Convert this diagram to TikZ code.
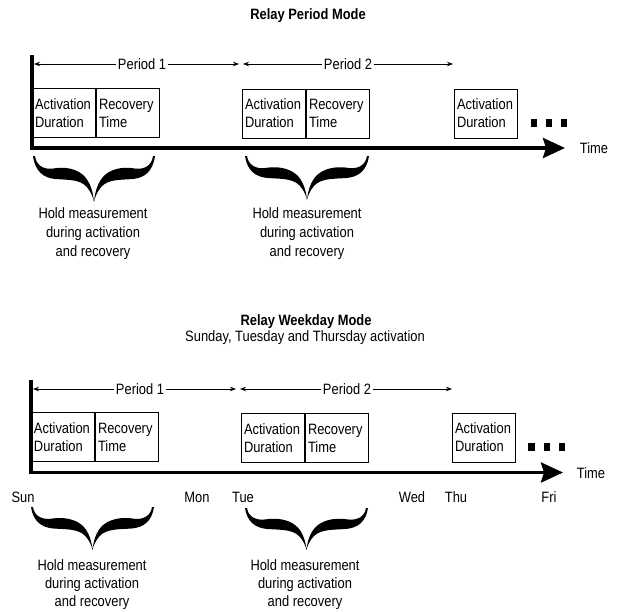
\documentclass[tikz,border=0pt]{standalone}
\usepackage{fontspec}
\setmainfont{Liberation Sans}[FakeStretch=0.86]
\usetikzlibrary{arrows.meta}
\newcommand\holdbrace[4]{%
  \begin{scope}[shift={(#1,#2)},xscale=#3/120,yscale=#4/46]
    \fill (0,0) .. controls (2,15) and (10,22) .. (22,23)
      .. controls (34,24) and (46,23) .. (53,31)
      .. controls (57,36) and (59,41) .. (60,46)
      .. controls (61,41) and (63,36) .. (67,31)
      .. controls (74,23) and (86,24) .. (98,23)
      .. controls (110,22) and (118,15) .. (120,0)
      -- (118,0) .. controls (117,9) and (110,14) .. (100,12.5)
      .. controls (92,11) and (82,11.5) .. (74,16.5)
      .. controls (65,22) and (61,34) .. (60,46)
      .. controls (59,34) and (55,22) .. (46,16.5)
      .. controls (38,11.5) and (28,11) .. (20,12.5)
      .. controls (10,14) and (3,9) .. (2,0) -- cycle;
  \end{scope}}
\begin{document}
\begin{tikzpicture}[x=1pt,y=-1pt,
  txt/.style={font=\fontsize{15}{18}\selectfont, inner sep=0pt},
  ttl/.style={font=\fontsize{15}{18}\selectfont\bfseries, inner sep=0pt},
  box/.style={draw, line width=1pt, anchor=north west, inner xsep=2.5pt, inner ysep=0pt,
    align=left, minimum height=49pt, text width=58pt, font=\fontsize{15}{18}\selectfont},
  axis/.style={line width=3.5pt, line join=miter, -{Stealth[length=22pt,width=20pt,inset=3pt]}},
  per/.style={line width=0.8pt, -{Stealth[length=6pt,width=4.5pt]}},
  pertxt/.style={txt, fill=white, inner xsep=2pt},
  dotsq/.style={fill, minimum width=6.5pt, minimum height=7.5pt, inner sep=0pt},
  hold/.style={txt, align=center}]
\useasboundingbox (0,0) rectangle (619,611);

% ---------------- Relay Period Mode ----------------
\node[ttl] (title1) at (308,16) {Relay Period Mode};

\coordinate (ax1top) at (32,55);
\coordinate (ax1end) at (565,148);
\draw[axis] (ax1top) |- (ax1end);
\node[txt] (time1) at (594,148) {Time};

\coordinate (p1a) at (34,64);
\coordinate (p1b) at (239,64);
\node[pertxt] (p1) at (142,64) {Period 1};
\draw[per] (p1) -- (p1a);
\draw[per] (p1) -- (p1b);
\coordinate (p2a) at (243,64);
\coordinate (p2b) at (453,64);
\node[pertxt] (p2) at (348,64) {Period 2};
\draw[per] (p2) -- (p2a);
\draw[per] (p2) -- (p2b);

\node[box] (a1) at (32,88) {Activation\\Duration};
\node[box] (r1) at (a1.north east) {Recovery\\Time};
\node[box] (a2) at (242,88.5) {Activation\\Duration};
\node[box] (r2) at (a2.north east) {Recovery\\Time};
\node[box] (a3) at (454,88.5) {Activation\\Duration};

\node[dotsq] (d1) at (534,123) {};
\node[dotsq] (d2) at (549,123) {};
\node[dotsq] (d3) at (564,123) {};

\holdbrace{33}{156}{122}{46}
\holdbrace{245}{156}{124}{44}

\node[hold, font=\fontsize{15}{19}\selectfont] (h1) at (93,234) {Hold measurement\\during activation\\and recovery};
\node[hold, font=\fontsize{15}{19}\selectfont] (h2) at (307,234) {Hold measurement\\during activation\\and recovery};

% ---------------- Relay Weekday Mode ----------------
\node[ttl] (title2) at (306,322) {Relay Weekday Mode};
\node[txt] (sub2) at (305,338) {Sunday, Tuesday and Thursday activation};

\coordinate (ax2top) at (31,380);
\coordinate (ax2end) at (563,472.5);
\draw[axis] (ax2top) |- (ax2end);
\node[txt] (time2) at (591,473) {Time};

\coordinate (q1a) at (33,389);
\coordinate (q1b) at (236,389);
\node[pertxt] (q1) at (140,389) {Period 1};
\draw[per] (q1) -- (q1a);
\draw[per] (q1) -- (q1b);
\coordinate (q2a) at (240,389);
\coordinate (q2b) at (452,389);
\node[pertxt] (q2) at (347,389) {Period 2};
\draw[per] (q2) -- (q2a);
\draw[per] (q2) -- (q2b);

\node[box] (b1) at (31,412) {Activation\\Duration};
\node[box] (s1) at (b1.north east) {Recovery\\Time};
\node[box] (b2) at (241,413) {Activation\\Duration};
\node[box] (s2) at (b2.north east) {Recovery\\Time};
\node[box] (b3) at (452,412.5) {Activation\\Duration};

\node[dotsq] (e1) at (531.5,447) {};
\node[dotsq] (e2) at (547,447) {};
\node[dotsq] (e3) at (562,447) {};

\node[txt] (sun) at (23,497) {Sun};
\node[txt] (mon) at (197,497) {Mon};
\node[txt] (tue) at (243,497) {Tue};
\node[txt] (wed) at (412,497) {Wed};
\node[txt] (thu) at (456,497) {Thu};
\node[txt] (fri) at (549,497) {Fri};

\holdbrace{31}{507}{123}{43}
\holdbrace{245}{508}{123}{42}

\node[hold, font=\fontsize{15}{18}\selectfont] (h3) at (92,585) {Hold measurement\\during activation\\and recovery};
\node[hold, font=\fontsize{15}{18}\selectfont] (h4) at (305,585) {Hold measurement\\during activation\\and recovery};
\end{tikzpicture}
\end{document}
